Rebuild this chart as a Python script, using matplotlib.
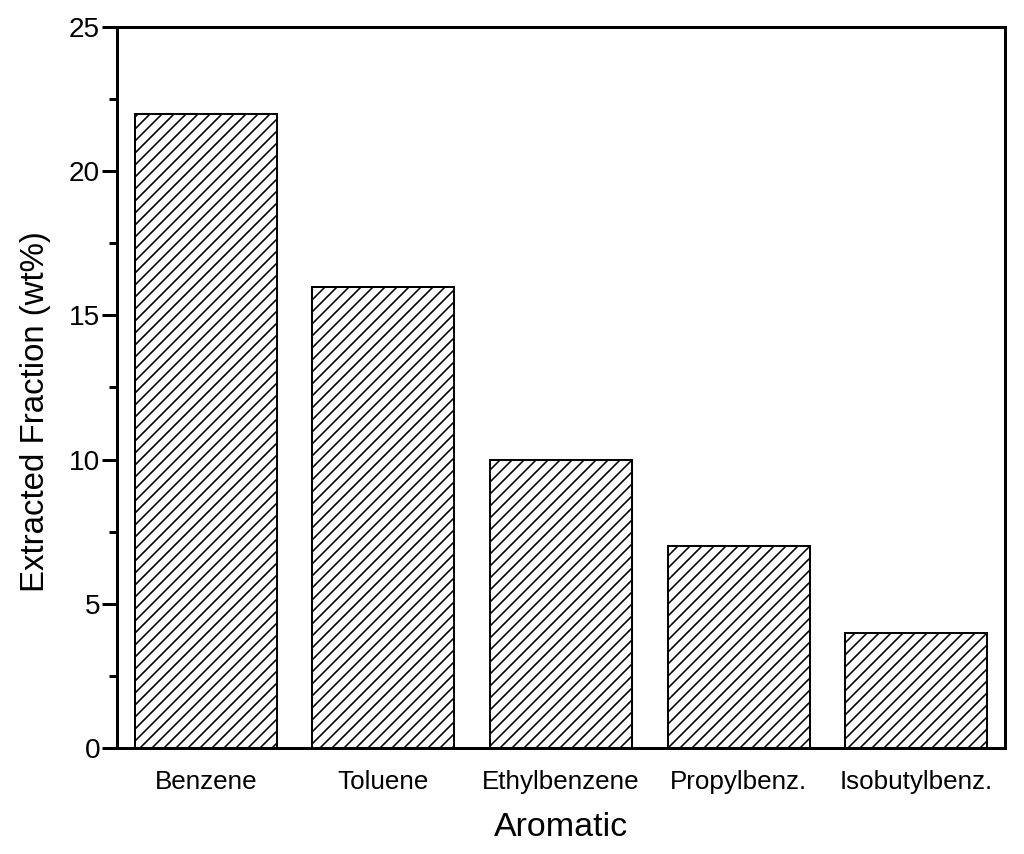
import matplotlib.pyplot as plt
from matplotlib.ticker import MultipleLocator

aromatics = ["Benzene", "Toluene", "Ethylbenzene", "Propylbenz.", "Isobutylbenz."]
fraction = [22, 16, 10, 7, 4]

plt.rcParams['font.family'] = ['Liberation Sans', 'DejaVu Sans']
plt.rcParams['hatch.linewidth'] = 0.8

fig = plt.figure(figsize=(1024 / 144, 854 / 144), dpi=144)
ax = fig.add_axes([117 / 1024, 1 - 748 / 854, 888 / 1024, 721 / 854])

ax.bar(range(len(aromatics)), fraction, width=0.8, color="white",
       edgecolor="black", linewidth=1.0, hatch="////")

ax.set_xlim(-0.5, 4.5)
ax.set_ylim(0, 25)
ax.set_xticks(range(len(aromatics)))
ax.set_xticklabels(aromatics)
ax.yaxis.set_major_locator(MultipleLocator(5))
ax.yaxis.set_minor_locator(MultipleLocator(2.5))

ax.tick_params(axis="x", length=0, labelsize=13, pad=11)
ax.tick_params(axis="y", which="major", length=7.5, width=1.5, labelsize=14, pad=1)
ax.tick_params(axis="y", which="minor", length=4, width=1.5)
for s in ax.spines.values():
    s.set_linewidth(1.5)

ax.set_xlabel("Aromatic", fontsize=17, labelpad=9)
ax.set_ylabel("Extracted Fraction (wt%)", fontsize=16.5)
ax.yaxis.set_label_coords(-0.074, 0.467)

fig.savefig("out.png", dpi=144)
